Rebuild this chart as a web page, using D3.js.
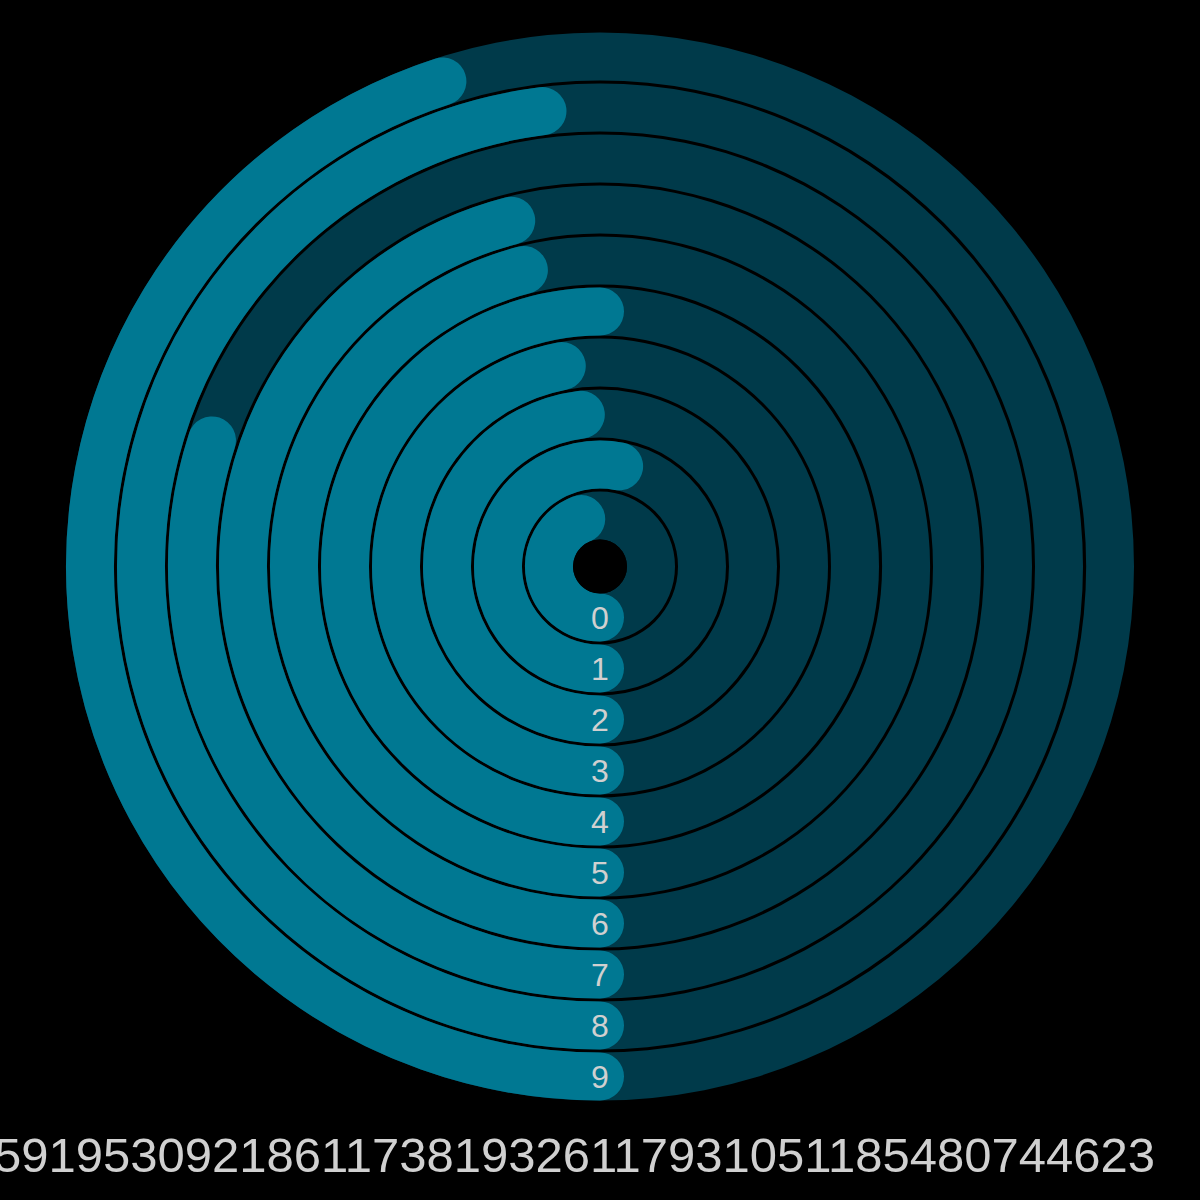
<!DOCTYPE html>
<html>
<head>
<meta charset="utf-8">
<script src="https://cdn.jsdelivr.net/npm/d3@7"></script>
<style>
  html, body { margin: 0; padding: 0; background: #000; overflow: hidden; }
  svg { display: block; }
</style>
</head>
<body>
<svg id="chart" width="1200" height="1200"></svg>
<script>
// ---- data ----
const digits = ["0", "1", "2", "3", "4", "5", "6", "7", "8", "9"];
const counts = [44, 53, 48, 47, 50, 46, 46, 30, 48, 45];
const countMax = 100;
const piChunks = [
  "3.",
  "1415926535", "8979323846", "2643383279", "5028841971", "6939937510",
  "5820974944", "5923078164", "0628620899", "8628034825", "3421170679",
  "8214808651", "3282306647", "0938446095", "5058223172", "5359408128",
  "4811174502", "8410270193", "8521105559", "6446229489", "5493038196",
  "4428810975", "6659334461", "2847564823", "3786783165", "2712019091",
  "4564856692", "3460348610", "4543266482", "1339360726", "0249141273",
  "7245870066", "0631558817", "4881520920", "9628292540", "9171536436",
  "7892590360", "0113305305", "4882046652", "1384146951", "9415116094",
  "3305727036", "5759591953", "0921861173", "8193261179", "3105118548",
  "0744623"
];
const piText = piChunks.join("");

// ---- layout ----
const W = 1200, H = 1200;
const cx = 600, cy = 566.5;
const trackColor = "#003a4a";
const barColor = "#007892";
const textColor = "#d0d0d0";

const svg = d3.select("#chart");
svg.append("rect").attr("width", W).attr("height", H).attr("fill", "#000");

const g = svg.append("g").attr("transform", `translate(${cx},${cy})`);

const radius = d3.scaleBand()
  .domain(digits)
  .range([27, 534])
  .paddingInner(3 / 51)
  .paddingOuter(0);

const angle = d3.scaleLinear().domain([0, countMax]).range([0, 2 * Math.PI]);

const rows = digits.map((d, i) => ({ digit: d, count: counts[i] }));

// tracks
const trackArc = d3.arc()
  .innerRadius(d => radius(d.digit))
  .outerRadius(d => radius(d.digit) + radius.bandwidth())
  .startAngle(0)
  .endAngle(2 * Math.PI);

g.selectAll("path.track")
  .data(rows)
  .join("path")
  .attr("class", "track")
  .attr("d", trackArc)
  .attr("fill", trackColor);

// bars: stroked arcs starting at the bottom, running clockwise, round caps
const mid = d => radius(d.digit) + radius.bandwidth() / 2;
function barPath(d) {
  const p = d3.path();
  const a0 = Math.PI / 2; // bottom in screen coordinates
  p.arc(0, 0, mid(d), a0, a0 + angle(d.count), false);
  return p.toString();
}

g.selectAll("path.bar")
  .data(rows)
  .join("path")
  .attr("class", "bar")
  .attr("d", barPath)
  .attr("fill", "none")
  .attr("stroke", barColor)
  .attr("stroke-width", radius.bandwidth())
  .attr("stroke-linecap", "round");

// center hole
g.append("circle").attr("r", radius.range()[0]).attr("fill", "#000");

// digit labels
g.selectAll("text.label")
  .data(rows)
  .join("text")
  .attr("class", "label")
  .attr("x", 0)
  .attr("y", d => mid(d))
  .attr("text-anchor", "middle")
  .attr("dominant-baseline", "central")
  .attr("font-family", "'Liberation Sans', Arial, Helvetica, sans-serif")
  .attr("font-size", 32)
  .attr("fill", textColor)
  .text(d => d.digit);

// pi digits string
svg.append("text")
  .attr("x", 1155)
  .attr("y", 1172)
  .attr("text-anchor", "end")
  .attr("font-family", "'Liberation Sans', Arial, Helvetica, sans-serif")
  .attr("font-size", 49)
  .attr("fill", textColor)
  .text(piText);
</script>
</body>
</html>
